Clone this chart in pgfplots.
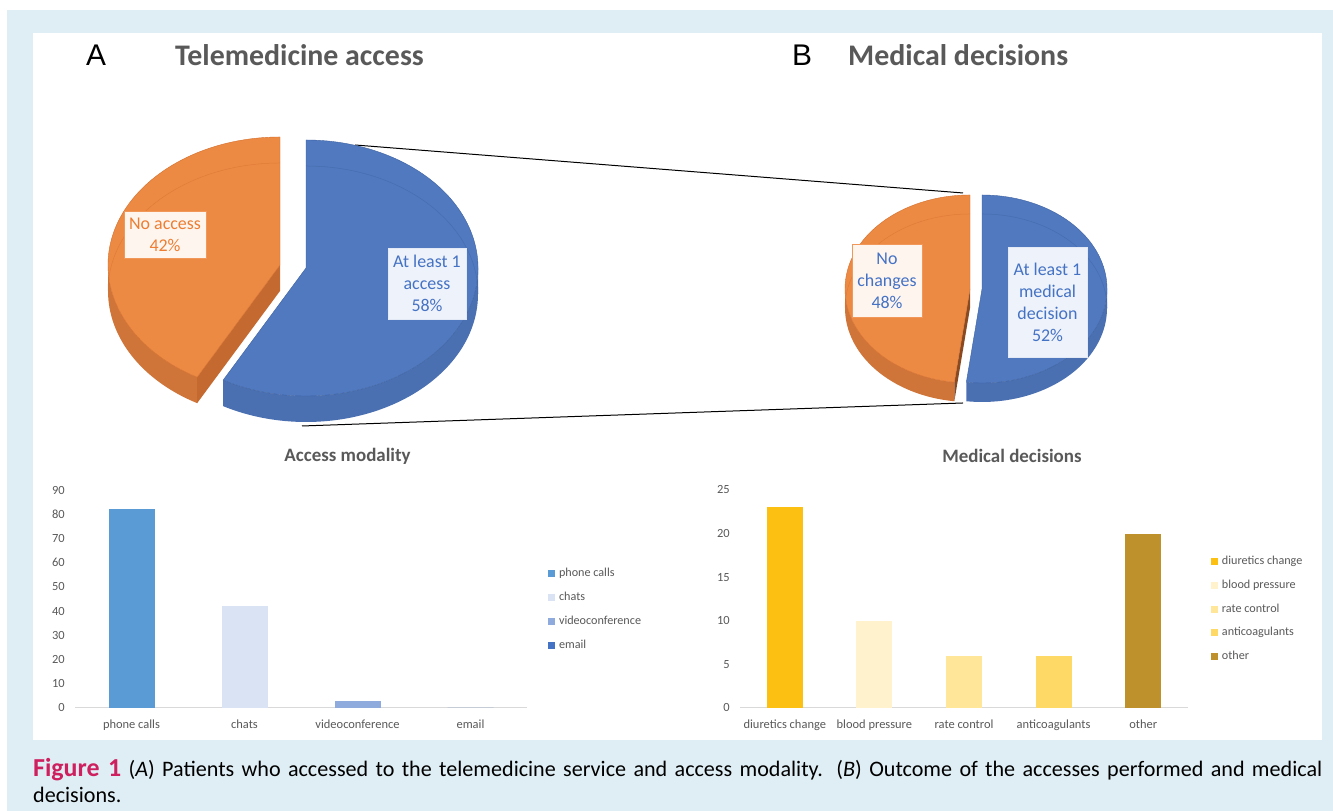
\documentclass[border=0pt]{standalone}
\usepackage{pgfplots}
\pgfplotsset{compat=1.18}
\usepackage{fontspec}
\setmainfont{Carlito}
\newfontfamily\arialf{Liberation Sans}

\definecolor{bgblue}{HTML}{DFEEF4}
\definecolor{pieblue}{HTML}{5079BF}
\definecolor{pieblueside}{HTML}{4A70B2}
\definecolor{pieblueline}{HTML}{3E61A0}
\definecolor{pieorange}{HTML}{EC8A44}
\definecolor{pieorangeside}{HTML}{D07539}
\definecolor{pieorangecut}{HTML}{C46A31}
\definecolor{pieorangeline}{HTML}{D46E2C}
\definecolor{txtgray}{HTML}{595959}
\definecolor{axgray}{HTML}{D9D9D9}
\definecolor{lblblue}{HTML}{4472C4}
\definecolor{lblorange}{HTML}{ED7D31}
\definecolor{figred}{HTML}{CE1F5F}
\definecolor{c1}{HTML}{5B9BD5}
\definecolor{c2}{HTML}{DAE3F3}
\definecolor{c3}{HTML}{8FAADC}
\definecolor{c4}{HTML}{4472C4}
\definecolor{d1}{HTML}{FCC013}
\definecolor{d2}{HTML}{FFF2CC}
\definecolor{d3}{HTML}{FFE699}
\definecolor{d4}{HTML}{FFD966}
\definecolor{d5}{HTML}{BF912D}

% pie shares (percent)
\def\shareA{58}  % at least 1 access
\def\shareB{52}  % at least 1 medical decision
\pgfmathsetmacro\angA{450-3.6*\shareA}
\pgfmathsetmacro\angB{450-3.6*\shareB}

% cx cy rx ry a1 a2 style
\newcommand\slicetop[7]{\fill[#7] (axis cs:#1,#2) -- ++(#5:#3bp and #4bp) arc[start angle=#5,end angle=#6,x radius=#3bp,y radius=#4bp] -- cycle;}
% cx cy rx ry a1 a2 h style
\newcommand\slicerim[8]{\fill[#8] (axis cs:#1,#2) ++(#5:#3bp and #4bp) arc[start angle=#5,end angle=#6,x radius=#3bp,y radius=#4bp] -- ++(0,-#7bp) arc[start angle=#6,end angle=#5,x radius=#3bp,y radius=#4bp] -- cycle;}
% cx cy rx ry a h style
\newcommand\slicecut[7]{\fill[#7] (axis cs:#1,#2) ++(0,-#6bp) -- ++(#5:#3bp and #4bp) -- ++(0,#6bp) -- (axis cs:#1,#2) -- cycle;}
% inner line: cx cy rx ry a1 a2 h style
\newcommand\sliceinner[8]{\draw[#8] (axis cs:#1,#2) ++(0,-#7bp) ++(#5:#3bp and #4bp) arc[start angle=#5,end angle=#6,x radius=#3bp,y radius=#4bp];}

\tikzset{pielbl/.style={draw, line width=0.6bp, align=center, inner sep=0pt,
    font=\fontsize{18}{22}\selectfont}}

\pgfplotsset{
  barstyle/.style={
    scale only axis, ybar, bar shift=0pt,
    axis x line*=bottom, axis y line*=left,
    y axis line style={draw=none},
    x axis line style={axgray, line width=1bp},
    major tick length=0pt, tick style={draw=none},
    enlargelimits=false,
    /pgf/number format/assume math mode=true,
    tick label style={font=\fontsize{12.5}{15}\selectfont, text=txtgray},
    yticklabel style={anchor=east, inner sep=0pt, xshift=-10bp},
    xticklabel style={anchor=base, inner sep=0pt, yshift=-20.5bp},
    title style={anchor=center, font=\bfseries\fontsize{19}{23}\selectfont, text=txtgray, inner sep=0pt},
    area legend,
    legend image code/.code={\fill[##1] (0bp,-3.5bp) rectangle (7bp,3.5bp);},
    legend style={draw=none, fill=none, inner sep=0pt, outer sep=0pt,
      row sep=13bp, column sep=4bp,
      font=\fontsize{12.2}{14}\selectfont, text=txtgray,
      nodes={inner sep=0pt, text height=8.5bp, text depth=2.5bp},
      anchor=north west},
    legend cell align=left,
  },
}

\begin{document}
\begin{tikzpicture}
% page frame
\fill[white] (0bp,0bp) rectangle (1333bp,811bp);
\fill[bgblue] (7bp,0bp) rectangle (1333bp,801bp);
\fill[white] (33bp,71bp) rectangle (1322bp,778bp);

% headings
\node[anchor=west, inner sep=0pt, font=\arialf\fontsize{30}{36}\selectfont] at (86bp,756bp) {A};
\node[anchor=west, inner sep=0pt, text=txtgray, font=\bfseries\fontsize{30}{36}\selectfont] at (175bp,756bp) {Telemedicine access};
\node[anchor=west, inner sep=0pt, font=\arialf\fontsize{30}{36}\selectfont] at (792bp,756bp) {B};
\node[anchor=west, inner sep=0pt, text=txtgray, font=\bfseries\fontsize{30}{36}\selectfont] at (848bp,756bp) {Medical decisions};

% ---------- pies ----------
\begin{axis}[at={(0bp,0bp)}, anchor=south west, scale only axis,
  width=1333bp, height=811bp, xmin=0, xmax=1333, ymin=0, ymax=811,
  axis lines=none, clip=false]
% connector lines
\draw[black, line width=1bp] (axis cs:355,666) -- (axis cs:963,618);
\draw[black, line width=1bp] (axis cs:302,385) -- (axis cs:963,408);
% Pie A : blue (at least 1 access)
\slicerim{306}{543}{172}{128}{\angA}{360}{26}{pieblueside}
\slicetop{306}{543}{172}{128}{\angA}{450}{pieblue, draw=pieblueline, line width=0.4bp}
\sliceinner{306}{543}{172}{128}{0}{90}{26}{pieblueline, line width=0.5bp, opacity=0.5}
% Pie A : orange (no access)
\slicerim{280}{546}{172}{128}{180}{\angA}{26}{pieorangeside}
\slicecut{280}{546}{172}{128}{\angA}{26}{pieorangecut}
\slicetop{280}{546}{172}{128}{90}{\angA}{pieorange, draw=pieorangeline, line width=0.4bp}
\sliceinner{280}{546}{172}{128}{90}{180}{26}{pieorangeline, line width=0.5bp, opacity=0.5}
% Pie B : blue (at least 1 medical decision)
\slicerim{982}{522}{125}{94}{\angB}{360}{19}{pieblueside}
\slicetop{982}{522}{125}{94}{\angB}{450}{pieblue, draw=pieblueline, line width=0.4bp}
\sliceinner{982}{522}{125}{94}{0}{90}{19}{pieblueline, line width=0.5bp, opacity=0.5}
% Pie B : orange (no changes)
\slicerim{970}{522}{125}{94}{180}{\angB}{19}{pieorangeside}
\slicecut{970}{522}{125}{94}{\angB}{19}{pieorangecut!70!black}
\slicetop{970}{522}{125}{94}{90}{\angB}{pieorange, draw=pieorangeline, line width=0.4bp}
\sliceinner{970}{522}{125}{94}{90}{180}{19}{pieorangeline, line width=0.5bp, opacity=0.5}
% labels
\node[pielbl, draw=lblorange!80, fill=lblorange!8, text=lblorange, minimum width=82bp, minimum height=47bp] at (axis cs:165,576.5) {No access\\42\%};
\node[pielbl, draw=white!85!lblblue, fill=lblblue!9, text=lblblue, minimum width=78bp, minimum height=71bp] at (axis cs:427,527.5) {At least 1\\access\\58\%};
\node[pielbl, draw=lblorange!80, fill=lblorange!8, text=lblblue, minimum width=70bp, minimum height=73bp] at (axis cs:887,530.5) {No\\changes\\48\%};
\node[pielbl, draw=white!85!lblblue, fill=lblblue!9, text=lblblue, minimum width=79bp, minimum height=110bp] at (axis cs:1047.5,509) {At least 1\\medical\\decision\\52\%};
\end{axis}

% ---------- bar chart: access modality ----------
\begin{axis}[barstyle, at={(75bp,103bp)}, anchor=south west,
  width=452bp, height=218bp, xmin=-0.5, xmax=3.5, ymin=0, ymax=90,
  ytick={0,10,...,90}, xtick={0,1,2,3},
  xticklabels={phone calls,chats,videoconference,email},
  bar width=46bp,
  title={Access modality}, title style={at={(0.603,1.128)}},
  legend style={at={(1.0465,0.642)}}]
\addplot[fill=c1, draw=none] coordinates {(0,82)};
\addplot[fill=c2, draw=none] coordinates {(1,42)};
\addplot[fill=c3, draw=none] coordinates {(2,3)};
\addplot[fill=c4, draw=none] coordinates {(3,0)};
\legend{phone calls,chats,videoconference,email}
\end{axis}

% ---------- bar chart: medical decisions ----------
\begin{axis}[barstyle, at={(740bp,103bp)}, anchor=south west,
  width=448bp, height=218bp, xmin=-0.5, xmax=4.5, ymin=0, ymax=25,
  ytick={0,5,...,25}, xtick={0,1,2,3,4},
  xticklabels={diuretics change,blood pressure,rate control,anticoagulants,other},
  bar width=36bp,
  title={Medical decisions}, title style={at={(0.607,1.128)}},
  legend style={at={(1.0513,0.695)}, row sep=12.6bp}]
\addplot[fill=d1, draw=none] coordinates {(0,23)};
\addplot[fill=d2, draw=none] coordinates {(1,10)};
\addplot[fill=d3, draw=none] coordinates {(2,6)};
\addplot[fill=d4, draw=none] coordinates {(3,6)};
\addplot[fill=d5, draw=none] coordinates {(4,20)};
\legend{diuretics change,blood pressure,rate control,anticoagulants,other}
\end{axis}

% ---------- caption ----------
\node[anchor=base west, inner sep=0pt, font=\fontsize{22.2}{26}\selectfont] at (33bp,35bp)
 {\makebox[1289bp][s]{\textcolor{figred}{\fontsize{26}{28}\selectfont\bfseries Figure 1}\ (\textit{A}) Patients who accessed to the telemedicine service and access modality. (\textit{B}) Outcome of the accesses performed and medical}};
\node[anchor=base west, inner sep=0pt, font=\fontsize{22.2}{26}\selectfont] at (33bp,9bp) {decisions.};
\end{tikzpicture}
\end{document}
